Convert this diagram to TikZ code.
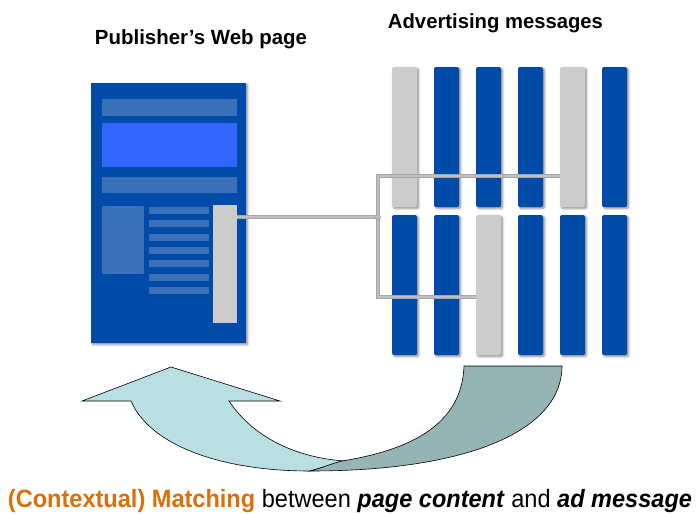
\documentclass[tikz,border=0pt]{standalone}
\usepackage{fontspec}
\setmainfont{Liberation Sans}
\usepackage{graphicx}
\usetikzlibrary{shadows.blur,shapes.geometric}

\definecolor{adblue}{RGB}{0,74,168}
\definecolor{barblue}{RGB}{58,112,184}
\definecolor{hiblue}{RGB}{51,102,255}
\definecolor{adgray}{RGB}{204,204,204}
\definecolor{linkgray}{RGB}{192,192,192}
\definecolor{orangetxt}{RGB}{217,112,12}
\definecolor{arrowcyan}{RGB}{185,223,227}
\definecolor{arrowteal}{RGB}{150,180,180}

\tikzset{
  softshadow/.style={blur shadow={shadow xshift=1.6pt, shadow yshift=-1.6pt,
      shadow blur steps=5, shadow opacity=45}},
  pagebox/.style={rectangle, inner sep=0pt, fill=adblue, minimum width=155pt,
      minimum height=260pt, softshadow},
  bar/.style={rectangle, inner sep=0pt, fill=barblue, minimum width=135pt},
  textline/.style={rectangle, inner sep=0pt, fill=barblue, minimum width=60pt,
      minimum height=7pt},
  colbase/.style={rectangle, inner sep=0pt, rounded corners=2pt,
      minimum width=25pt, minimum height=140pt, softshadow},
  bluecol/.style={colbase, fill=adblue},
  graycol/.style={colbase, fill=adgray},
  adslot/.style={rectangle, inner sep=0pt, fill=adgray, minimum width=24pt,
      minimum height=118pt},
  link/.style={draw=gray!70, double=linkgray, double distance=2.2pt,
      line width=0.6pt},
  junction/.style={diamond, inner sep=0pt, minimum size=6pt, fill=linkgray,
      draw=gray!70, line width=0.5pt},
  heading/.style={inner sep=0pt, anchor=base, font=\bfseries\fontsize{20.5}{23}\selectfont},
  arrowpart/.style={draw=black, line width=0.6pt}
}

\begin{document}
\begin{tikzpicture}[x=1pt, y=-1pt]
\useasboundingbox (0,0) rectangle (699,514);

% headings
\node[heading] (hpage) at (201,44) {\resizebox{212pt}{\height}{Publisher’s Web page}};
\node[heading] (hads) at (495.5,28) {\resizebox{215pt}{\height}{Advertising messages}};

% publisher page mock-up
\node[pagebox] (page) at (168.5,213) {};
\node[bar, minimum height=17pt] (bar1) at (169.5,107.5) {};
\node[rectangle, inner sep=0pt, fill=hiblue, minimum width=135pt, minimum height=44pt] (banner) at (169.5,145) {};
\node[bar, minimum height=16pt] (bar2) at (169.5,185) {};
\node[rectangle, inner sep=0pt, fill=barblue, minimum width=42pt, minimum height=68pt] (img) at (123,240) {};
\foreach \k in {0,...,6} {
  \node[textline] (tl\k) at (179,{210.5+13.3*\k}) {};
}
\node[adslot] (slot) at (225,264) {};

% advertising messages, top row
\node[graycol] (t1) at (404.5,137) {};
\node[bluecol] (t2) at (446.5,137) {};
\node[bluecol] (t3) at (488.5,137) {};
\node[bluecol] (t4) at (530.5,137) {};
\node[graycol] (t5) at (572.5,137) {};
\node[bluecol] (t6) at (614.5,137) {};
% bottom row
\node[bluecol] (b1) at (404.5,285) {};
\node[bluecol] (b2) at (446.5,285) {};
\node[graycol] (b3) at (488.5,285) {};
\node[bluecol] (b4) at (530.5,285) {};
\node[bluecol] (b5) at (572.5,285) {};
\node[bluecol] (b6) at (614.5,285) {};

% links from the ad slot to the matching messages
\coordinate (j) at (378,217);
\coordinate (jt) at (378,176);
\coordinate (jb) at (378,297);
\draw[link] (slot.east |- j) -- (j);
\draw[link] (t5.west |- jt) -- (jt) -- (jb) -- (b3.west |- jb);
\node[junction] (jd) at (j) {};

% curved feedback arrow
\path[arrowpart, fill=arrowcyan]
  (82,401) -- (171,367) -- (280,401) -- (229,401)
  .. controls (255,440) and (300,458) .. (345,461)
  -- (310,471)
  .. controls (220,471) and (150,445) .. (131,401) -- cycle;
\path[arrowpart, fill=arrowteal]
  (464,366) -- (562,366)
  .. controls (562,430) and (470,471) .. (310,471)
  .. controls (322,468) and (330,464) .. (342,461)
  .. controls (410,450) and (462,425) .. (464,366) -- cycle;

% caption
\node[inner sep=0pt, anchor=base, font=\fontsize{25}{28}\selectfont] (cap) at (350,507)
  {\resizebox{684pt}{\height}{\textcolor{orangetxt}{\bfseries (Contextual) Matching} between \textbf{\textit{page content}} and \textbf{\textit{ad message}}}};
\end{tikzpicture}
\end{document}
